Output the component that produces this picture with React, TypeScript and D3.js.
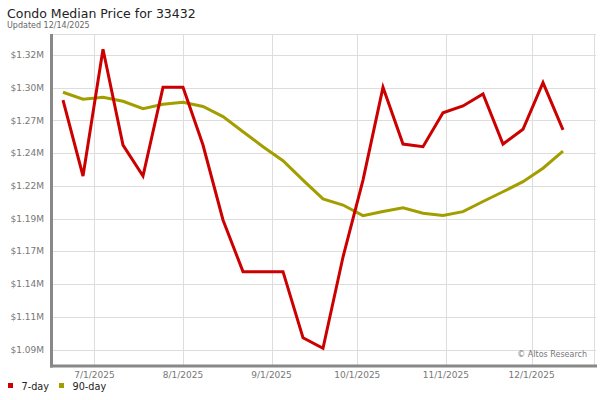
import React from "react";
import * as d3 from "d3";

const startDate = "2025-06-20";
const weekCount = 26;
const sevenDay = [
  1.2857, 1.2258, 1.3257, 1.2502, 1.2258, 1.2957, 1.2957, 1.2502, 1.1911, 1.1504,
  1.1504, 1.1504, 1.0983, 1.0899, 1.1619, 1.2226, 1.2957, 1.251, 1.2489, 1.2757,
  1.281, 1.2905, 1.251, 1.2626, 1.2994, 1.2621,
];
const ninetyDay = [
  1.2918, 1.2863, 1.2878, 1.2847, 1.2789, 1.2823, 1.2839, 1.2806, 1.2726, 1.2607,
  1.2489, 1.2379, 1.2226, 1.2077, 1.2029, 1.1945, 1.1978, 1.2008, 1.1964, 1.1947,
  1.1977, 1.2057, 1.2134, 1.2213, 1.2319, 1.2455,
];
const yTickValues = [1.089, 1.1148, 1.1406, 1.1664, 1.1922, 1.218, 1.2438, 1.2696, 1.2954, 1.3212];
const yTickLabels = ["$1.09M", "$1.11M", "$1.14M", "$1.17M", "$1.19M", "$1.22M", "$1.24M", "$1.27M", "$1.30M", "$1.32M"];
const xTickDates = ["2025-07-01", "2025-08-01", "2025-09-01", "2025-10-01", "2025-11-01", "2025-12-01"];
const xTickLabels = ["7/1/2025", "8/1/2025", "9/1/2025", "10/1/2025", "11/1/2025", "12/1/2025"];
const seriesNames = ["7-day", "90-day"];
const seriesColors = ["#cc0000", "#a39e00"];

const parse = d3.timeParse("%Y-%m-%d");
const font = "DejaVu Sans";

export default function App() {
  const start = parse(startDate) as Date;
  const dates = d3.range(weekCount).map((i) => d3.timeDay.offset(start, i * 7));
  const plotLeft = 51.5;
  const plotRight = 596;
  const plotTop = 34;
  const plotBottom = 366;

  const x = d3.scaleTime().domain([dates[0], dates[dates.length - 1]]).range([63, 563]);
  const y = d3
    .scaleLinear()
    .domain([yTickValues[0], yTickValues[yTickValues.length - 1]])
    .range([349.5, 55]);

  const line = d3
    .line<number>()
    .x((_, i) => x(dates[i]))
    .y((v) => y(v));

  const series = [sevenDay, ninetyDay];

  return (
    <svg
      width={600}
      height={400}
      style={{ position: "absolute", left: 0, top: 0, background: "#fff" }}
      fontFamily={font}
    >
      <text x={7} y={18} fontSize={12.5} fill="#222">
        Condo Median Price for 33432
      </text>
      <text x={7} y={27.5} fontSize={8} fill="#666">
        Updated 12/14/2025
      </text>

      {/* grid */}
      <line x1={plotLeft} x2={plotRight} y1={plotTop + 0.5} y2={plotTop + 0.5} stroke="#dddddd" />
      <line x1={plotRight - 1.5} x2={plotRight - 1.5} y1={plotTop} y2={plotBottom} stroke="#dddddd" />
      {yTickValues.map((v, i) => (
        <g key={"y" + i}>
          <line
            x1={plotLeft}
            x2={plotRight}
            y1={Math.round(y(v)) + 0.5}
            y2={Math.round(y(v)) + 0.5}
            stroke="#dddddd"
          />
          <text
            x={44}
            y={y(v)}
            dy="0.35em"
            textAnchor="end"
            fontSize={9}
            fill="#777"
          >
            {yTickLabels[i]}
          </text>
        </g>
      ))}
      {xTickDates.map((ds, i) => {
        const xv = x(parse(ds) as Date);
        return (
          <g key={"x" + i}>
            <line
              x1={Math.round(xv) + 0.5}
              x2={Math.round(xv) + 0.5}
              y1={plotTop}
              y2={plotBottom}
              stroke="#dddddd"
            />
            <text x={xv} y={378} textAnchor="middle" fontSize={9} fill="#777">
              {xTickLabels[i]}
            </text>
          </g>
        );
      })}

      <text x={587} y={357} textAnchor="end" fontSize={8} fill="#777">
        © Altos Research
      </text>

      {/* series */}
      {[1, 0].map((si) => (
        <path
          key={"s" + si}
          d={line(series[si]) || ""}
          fill="none"
          stroke={seriesColors[si]}
          strokeWidth={3}
          strokeLinejoin="miter"
        />
      ))}

      {/* axes */}
      <line x1={plotLeft} x2={plotLeft} y1={plotTop} y2={plotBottom + 1.5} stroke="#888" strokeWidth={3} />
      <line x1={plotLeft - 1.5} x2={plotRight + 1} y1={plotBottom} y2={plotBottom} stroke="#888" strokeWidth={3} />

      {/* legend */}
      {seriesNames.map((name, i) => {
        const lx = i === 0 ? 8 : 59;
        return (
          <g key={"l" + i}>
            <rect x={lx} y={383} width={5} height={5} fill={seriesColors[i]} />
            <text x={lx + 13.5} y={389.5} fontSize={9.7} fill="#222">
              {name}
            </text>
          </g>
        );
      })}
    </svg>
  );
}
